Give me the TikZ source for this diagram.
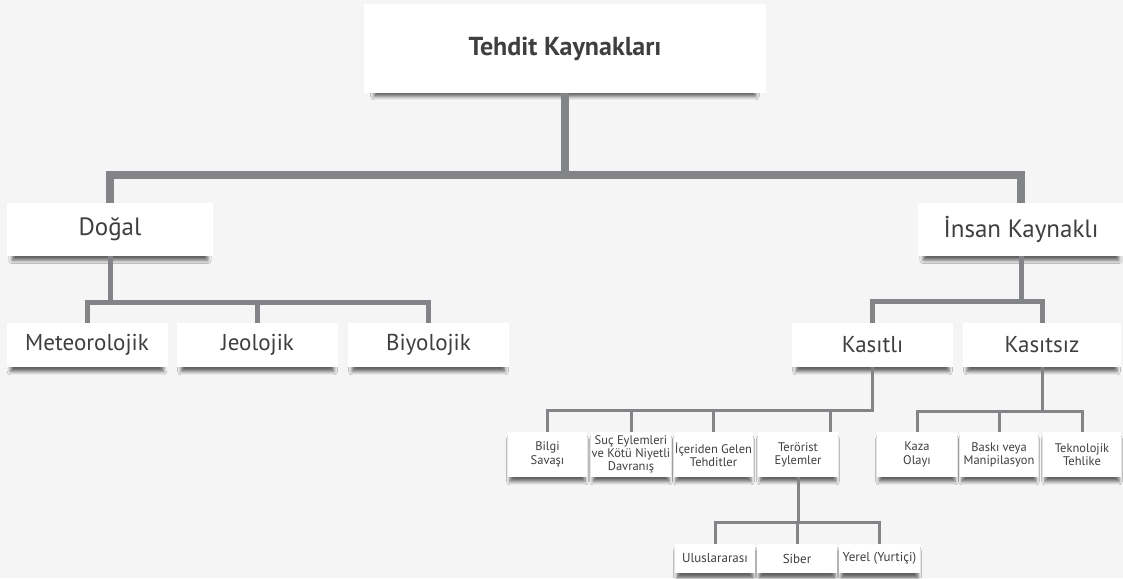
\documentclass[tikz,border=0pt]{standalone}
\usepackage{fontspec}
\setmainfont{PT Sans}
\usetikzlibrary{shadows.blur}
\definecolor{bgc}{HTML}{F5F5F5}
\definecolor{linec}{HTML}{838488}
\definecolor{txt}{HTML}{3F3F3F}
\begin{document}
\begin{tikzpicture}[x=1pt,y=-1pt,
  box/.style={fill=white, text=txt, align=center, inner sep=0pt,
    blur shadow={shadow xshift=0pt, shadow yshift=-6pt, shadow scale=0.95,
      shadow blur radius=3.5pt, shadow opacity=60}},
  topbox/.style={box, minimum width=402pt, minimum height=89pt,
    font=\fontsize{26}{30}\selectfont\bfseries},
  lvA/.style={box, minimum width=206pt, minimum height=53pt,
    font=\fontsize{25}{30}\selectfont},
  lvB/.style={box, minimum width=161pt, minimum height=44pt,
    font=\fontsize{23}{28}\selectfont},
  lvC/.style={box, minimum width=80pt, minimum height=45pt,
    font=\fontsize{12.5}{13.3}\selectfont},
  lvD/.style={box, minimum width=80pt, minimum height=29pt,
    font=\fontsize{13}{15}\selectfont},
  cA/.style={draw=linec, line width=7.5pt},
  cB/.style={draw=linec, line width=5pt},
  cC/.style={draw=linec, line width=3pt}]
\fill[bgc] (0,0) rectangle (1123,578);
\useasboundingbox (0,0) rectangle (1123,578);

% nodes
\node[topbox] (top) at (565,48.5) {Tehdit Kaynakları};
\node[lvA] (dogal) at (110,229.5) {Doğal};
\node[lvA] (insan) at (1021,229.5) {İnsan Kaynaklı};
\node[lvB] (meteo) at (87,345) {Meteorolojik};
\node[lvB] (jeo) at (257.5,345) {Jeolojik};
\node[lvB] (biyo) at (428.5,345) {Biyolojik};
\node[lvB] (kasitli) at (872.5,345) {Kasıtlı};
\node[lvB, minimum width=158pt] (kasitsiz) at (1042,345) {Kasıtsız};
\node[lvC, minimum width=79pt] (bilgi) at (547.5,454.5) {Bilgi\\Savaşı};
\node[lvC] (suc) at (631,454.5) {Suç Eylemleri\\ve Kötü Niyetli\\Davranış};
\node[lvC, minimum width=79pt] (iceri) at (713.5,454.5) {İçeriden Gelen\\Tehditler};
\node[lvC] (teror) at (798,454.5) {Terörist\\Eylemler};
\node[lvC] (kaza) at (917,454.5) {Kaza\\Olayı};
\node[lvC, minimum width=78pt] (baski) at (999,454.5) {Baskı veya\\Manipilasyon};
\node[lvC, minimum width=78pt] (tekno) at (1082,454.5) {Teknolojik\\Tehlike};
\node[lvD] (ulus) at (715,558.5) {Uluslararası};
\node[lvD] (siber) at (797,558.5) {Siber};
\node[lvD, minimum width=81pt] (yerel) at (879.5,558.5) {Yerel (Yurtiçi)};

% bar levels
\coordinate (b1) at (0,175);
\coordinate (b2) at (0,302.5);
\coordinate (b3) at (0,301.5);
\coordinate (b4) at (0,410.5);
\coordinate (b5) at (0,411.5);
\coordinate (b6) at (0,522.5);
\coordinate (tv) at ([xshift=-8pt]teror.north east);

% connectors
\draw[cA] (top.south) -- (top.south |- b1);
\draw[cA] (dogal.north) |- (insan.north |- b1) -- (insan.north);

\draw[cB] (dogal.south) -- (dogal.south |- b2);
\draw[cB] (meteo.north) |- (biyo.north |- b2) -- (biyo.north);
\draw[cB] (jeo.north) -- (jeo.north |- b2);

\draw[cB] (insan.south) -- (insan.south |- b3);
\draw[cB] (kasitli.north) |- (kasitsiz.north |- b3) -- (kasitsiz.north);

\draw[cC] (kasitli.south) |- (bilgi.north |- b4) -- (bilgi.north);
\draw[cC] (suc.north) -- (suc.north |- b4);
\draw[cC] (iceri.north) -- (iceri.north |- b4);
\draw[cC] (tv) -- (tv |- b4);

\draw[cC] (kasitsiz.south) -- (kasitsiz.south |- b5);
\draw[cC] (kaza.north) |- (tekno.north |- b5) -- (tekno.north);
\draw[cC] (baski.north) -- (baski.north |- b5);

\draw[cC] (teror.south) -- (teror.south |- b6);
\draw[cC] (ulus.north) |- (yerel.north |- b6) -- (yerel.north);
\draw[cC] (siber.north) -- (siber.north |- b6);
\end{tikzpicture}
\end{document}
